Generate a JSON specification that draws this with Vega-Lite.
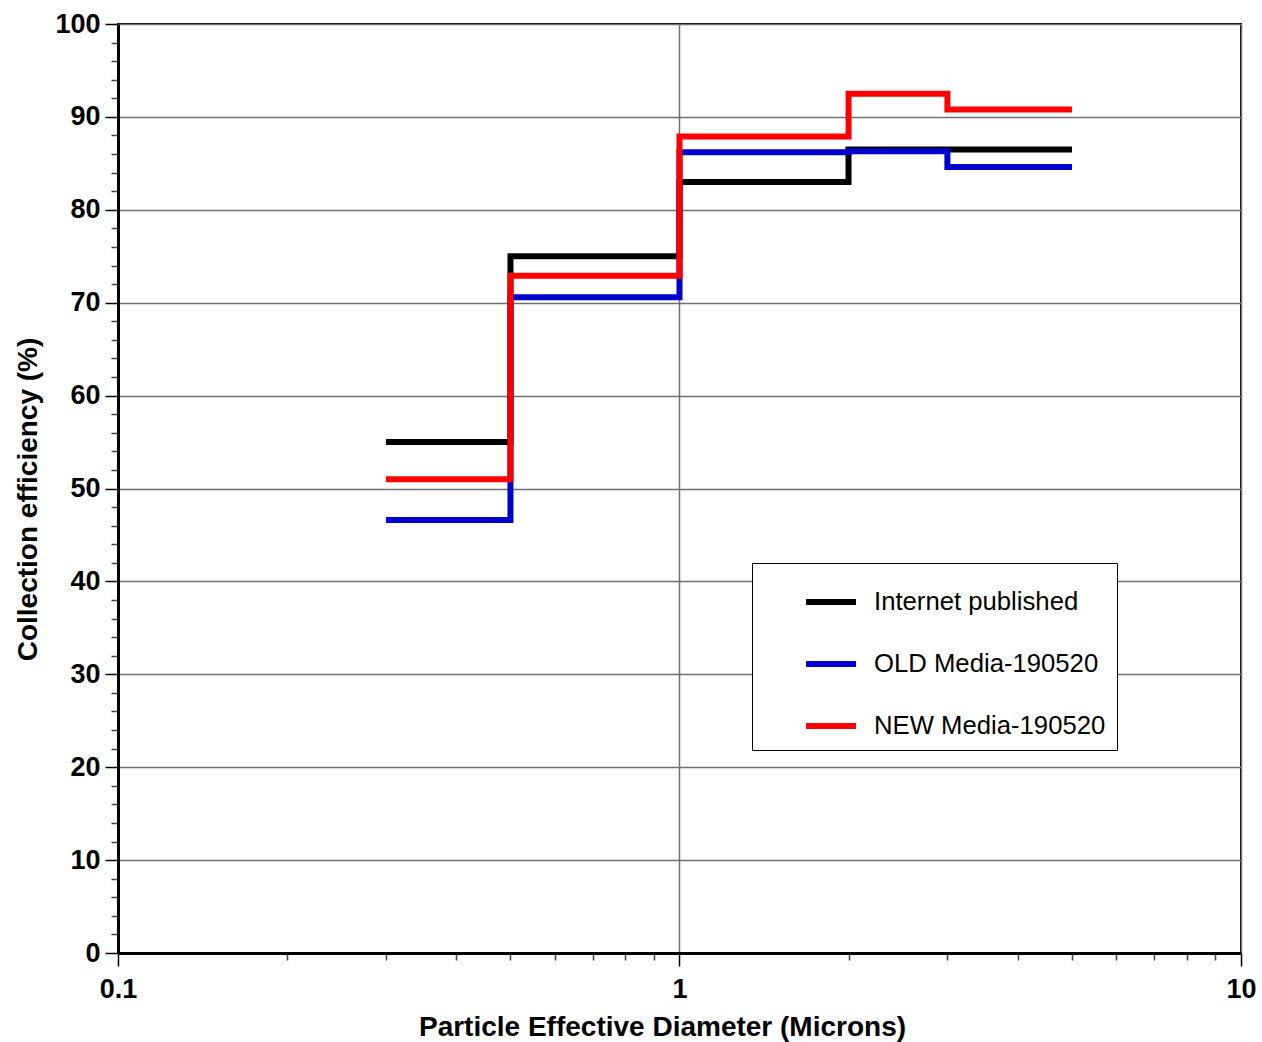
{
  "$schema": "https://vega.github.io/schema/vega-lite/v6.json",
  "autosize": {"type": "none"},
  "padding": {"left": 118, "top": 24, "right": 21, "bottom": 89},
  "width": 1123,
  "height": 929,
  "background": "white",
  "config": {
    "view": {"stroke": "#000000", "strokeWidth": 2},
    "font": "Liberation Sans"
  },
  "data": {
    "values": [
      {"series": "Internet published", "d": 0.3, "eff": 55.0},
      {"series": "Internet published", "d": 0.5, "eff": 75.0},
      {"series": "Internet published", "d": 1, "eff": 83.0},
      {"series": "Internet published", "d": 2, "eff": 86.5},
      {"series": "Internet published", "d": 3, "eff": 86.5},
      {"series": "Internet published", "d": 5, "eff": 86.5},
      {"series": "OLD Media-190520", "d": 0.3, "eff": 46.6},
      {"series": "OLD Media-190520", "d": 0.5, "eff": 70.6},
      {"series": "OLD Media-190520", "d": 1, "eff": 86.2},
      {"series": "OLD Media-190520", "d": 2, "eff": 86.3},
      {"series": "OLD Media-190520", "d": 3, "eff": 84.6},
      {"series": "OLD Media-190520", "d": 5, "eff": 84.6},
      {"series": "NEW Media-190520", "d": 0.3, "eff": 51.0},
      {"series": "NEW Media-190520", "d": 0.5, "eff": 72.9},
      {"series": "NEW Media-190520", "d": 1, "eff": 87.9},
      {"series": "NEW Media-190520", "d": 2, "eff": 92.5},
      {"series": "NEW Media-190520", "d": 3, "eff": 90.8},
      {"series": "NEW Media-190520", "d": 5, "eff": 90.8}
    ]
  },
  "mark": {"type": "line", "interpolate": "step-after", "strokeWidth": 6, "strokeCap": "butt", "strokeJoin": "miter", "clip": true},
  "encoding": {
    "x": {
      "field": "d",
      "type": "quantitative",
      "scale": {"type": "log", "domain": [0.1, 10], "nice": false},
      "axis": {
        "title": "Particle Effective Diameter (Microns)",
        "titleFont": "Liberation Sans",
        "titleFontSize": 28,
        "titleFontWeight": "bold",
        "titleColor": "#000000",
        "titlePadding": 11,
        "titleX": 544,
        "values": [0.1, 0.2, 0.3, 0.4, 0.5, 0.6, 0.7, 0.8, 0.9, 1, 2, 3, 4, 5, 6, 7, 8, 9, 10],
        "labelExpr": "indexof([0.1, 1, 10], datum.value) >= 0 ? '' + datum.value : ''",
        "labelFont": "Liberation Sans",
        "labelFontSize": 27,
        "labelFontWeight": "bold",
        "labelColor": "#000000",
        "labelPadding": 10,
        "labelFlush": false,
        "labelOverlap": false,
        "domainColor": "#000000",
        "domainWidth": 3,
        "tickSize": {"condition": {"test": "indexof([0.1, 1, 10], datum.value) >= 0", "value": 13}, "value": 7},
        "tickColor": {"condition": {"test": "indexof([0.1, 1, 10], datum.value) >= 0", "value": "#000000"}, "value": "#444444"},
        "tickWidth": 1.5,
        "grid": true,
        "gridColor": "#707070",
        "gridWidth": 1.5,
        "gridOpacity": {"condition": {"test": "indexof([0.1, 1, 10], datum.value) >= 0", "value": 1}, "value": 0}
      }
    },
    "y": {
      "field": "eff",
      "type": "quantitative",
      "scale": {"domain": [0, 100], "nice": false, "zero": true},
      "axis": {
        "title": "Collection efficiency (%)",
        "titleFont": "Liberation Sans",
        "titleFontSize": 28,
        "titleFontWeight": "bold",
        "titleColor": "#000000",
        "titlePadding": 12,
        "titleY": 475,
        "values": [0, 2, 4, 6, 8, 10, 12, 14, 16, 18, 20, 22, 24, 26, 28, 30, 32, 34, 36, 38, 40, 42, 44, 46, 48, 50, 52, 54, 56, 58, 60, 62, 64, 66, 68, 70, 72, 74, 76, 78, 80, 82, 84, 86, 88, 90, 92, 94, 96, 98, 100],
        "labelExpr": "datum.value % 10 === 0 ? '' + datum.value : ''",
        "labelFont": "Liberation Sans",
        "labelFontSize": 27,
        "labelFontWeight": "bold",
        "labelColor": "#000000",
        "labelPadding": 5,
        "labelOverlap": false,
        "labelFlush": false,
        "domainColor": "#000000",
        "domainWidth": 3,
        "tickSize": {"condition": {"test": "datum.value % 10 === 0", "value": 13}, "value": 7},
        "tickColor": {"condition": {"test": "datum.value % 10 === 0", "value": "#000000"}, "value": "#444444"},
        "tickWidth": 1.5,
        "grid": true,
        "gridColor": "#707070",
        "gridWidth": 1.5,
        "gridOpacity": {"condition": {"test": "datum.value % 10 === 0", "value": 1}, "value": 0}
      }
    },
    "color": {
      "field": "series",
      "type": "nominal",
      "sort": null,
      "scale": {
        "domain": ["Internet published", "OLD Media-190520", "NEW Media-190520"],
        "range": ["#000000", "#0000cc", "#ff0000"]
      },
      "legend": {
        "title": null,
        "orient": "none",
        "legendX": 634,
        "legendY": 539,
        "fillColor": "#ffffff",
        "strokeColor": "#000000",
        "padding": 11,
        "symbolType": "stroke",
        "symbolSize": 2500,
        "symbolStrokeWidth": 6,
        "symbolOffset": 40,
        "labelOffset": 15,
        "labelFont": "Liberation Sans",
        "labelFontSize": 25.7,
        "labelColor": "#000000",
        "labelLimit": 500,
        "rowPadding": 21,
        "encode": {
          "entries": {
            "enter": {"width": {"value": 391}, "height": {"value": 41}, "fill": {"value": "transparent"}},
            "update": {"width": {"value": 391}, "height": {"value": 41}, "fill": {"value": "transparent"}}
          }
        }
      }
    }
  }
}
